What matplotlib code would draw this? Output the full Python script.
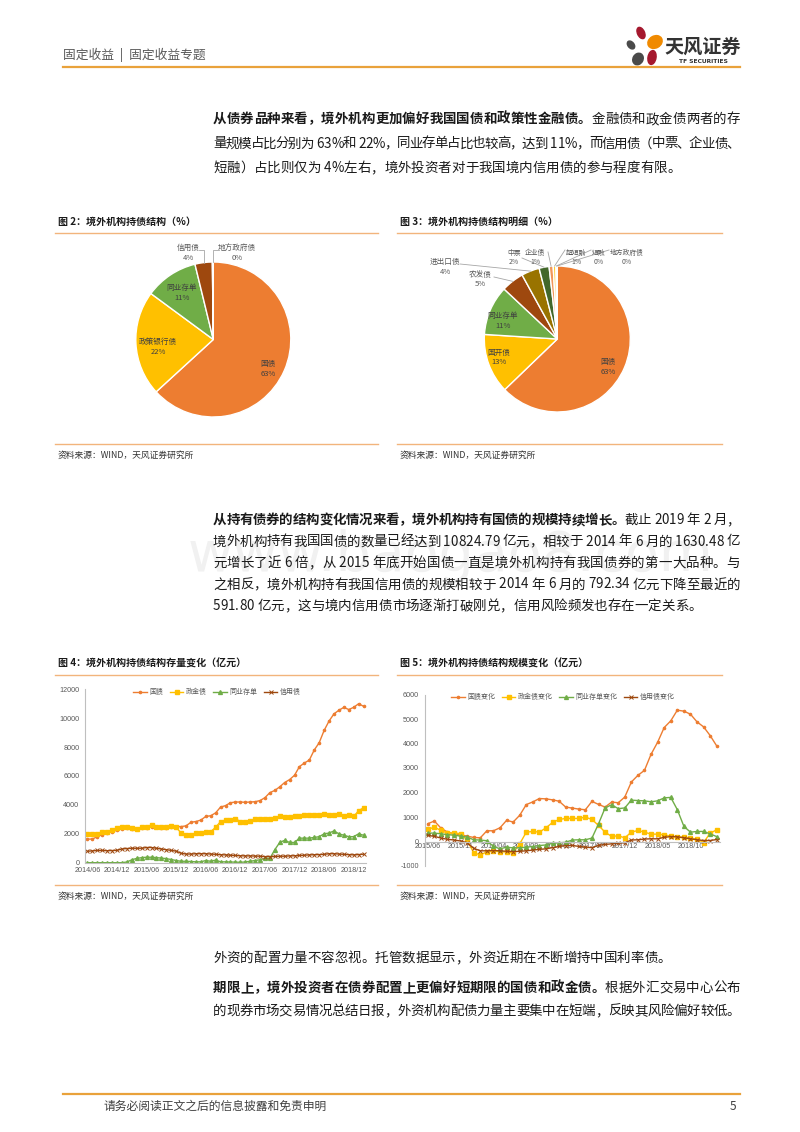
import numpy as np
import pandas as pd
import matplotlib
matplotlib.use('Agg')
import matplotlib.pyplot as plt
from matplotlib import font_manager as fm
from matplotlib.patches import Ellipse

plt.rcParams['font.family'] = ['Noto Sans CJK SC', 'DejaVu Sans']
plt.rcParams['axes.unicode_minus'] = False

# ---------------- data ----------------
pie1_labels = ['国债', '政策银行债', '同业存单', '信用债', '地方政府债']
pie1_values = [63.2, 21.9, 11.1, 3.6, 0.2]
pie1_colors = ['#ED7D31', '#FFC000', '#70AD47', '#9E480E', '#997300']

pie2_labels = ['国债', '国开债', '同业存单', '农发债', '进出口债', '中票', '企业债', '超短融', '短融', '地方政府债']
pie2_values = [62.8, 13.2, 11.0, 5.0, 4.0, 2.2, 0.9, 0.6, 0.2, 0.1]
pie2_colors = ['#ED7D31', '#FFC000', '#70AD47', '#9E480E', '#997300', '#43682B',
               '#F1975A', '#FFCD33', '#8CC168', '#D26012']

months4 = list(pd.period_range('2014-06', '2019-02', freq='M').strftime('%Y/%m'))
stock_gz = [1630, 1640, 1800, 1950, 2050, 2150, 2250,
            2350, 2380, 2350, 2350, 2400, 2400, 2500, 2450, 2400, 2400, 2450, 2500,
            2500, 2550, 2800, 2850, 2950, 3200, 3250, 3450, 3850, 3950, 4150, 4200,
            4200, 4180, 4200, 4220, 4300, 4500, 4850, 5000, 5250, 5550, 5750, 6050,
            6650, 6900, 7100, 7800, 8300, 9150, 9800, 10300, 10550, 10750, 10600, 10750,
            11000, 10825]
stock_zj = [2000, 2000, 2000, 2100, 2150, 2250, 2400,
            2500, 2450, 2400, 2350, 2450, 2500, 2600, 2500, 2450, 2500, 2550, 2450,
            2050, 1950, 1950, 2050, 2050, 2100, 2150, 2450, 2850, 2950, 2950, 3050,
            2850, 2850, 2900, 3000, 3000, 3050, 3050, 3100, 3200, 3150, 3150, 3200,
            3200, 3300, 3300, 3300, 3300, 3400, 3300, 3300, 3400, 3250, 3300, 3200,
            3600, 3800]
stock_tc = [0, 0, 0, 0, 0, 0, 0,
            0, 50, 200, 300, 350, 380, 380, 350, 320, 280, 220, 150,
            100, 100, 80, 60, 60, 150, 100, 180, 60, 60, 50, 40,
            30, 50, 100, 150, 200, 300, 300, 900, 1400, 1550, 1400, 1400,
            1700, 1700, 1700, 1750, 1800, 2000, 2050, 2200, 2000, 1900, 1800, 1800,
            2000, 1900]
stock_xy = [792, 820, 850, 850, 830, 840, 860,
            950, 980, 1000, 1000, 1000, 1050, 1050, 1000, 950, 900, 850, 800,
            650, 600, 600, 620, 620, 620, 600, 580, 550, 540, 520, 500,
            480, 470, 470, 460, 450, 420, 420, 430, 450, 450, 470, 480,
            500, 520, 540, 550, 560, 580, 620, 620, 600, 580, 560, 540,
            560, 592]
stock_names = ['国债', '政金债', '同业存单', '信用债']

months5 = list(pd.period_range('2015-06', '2019-02', freq='M').strftime('%Y/%m'))
chg_gz = [726, 835, 548, 384, 315, 274, 219, 164, 150, 438, 438, 560, 863, 795, 1070,
          1507, 1617, 1754, 1740, 1700, 1644, 1405, 1364, 1323, 1296, 1637, 1514, 1405,
          1610, 1582, 1814, 2428, 2700, 2905, 3560, 4051, 4651, 4924, 5360, 5320, 5197,
          4883, 4679, 4324, 3900]
chg_zj = [491, 587, 450, 341, 355, 314, 50, -464, -546, -423, -368, -423, -423, -464, -95,
          382, 409, 382, 559, 777, 900, 941, 941, 941, 996, 900, 655, 382, 205, 232,
          150, 382, 450, 382, 300, 300, 273, 218, 191, 177, 136, 95, -41, 341, 477]
chg_tc = [343, 343, 315, 280, 260, 220, 180, 70, 60, 30, -200, -300, -230, -260, -260,
          -230, -205, -165, -140, -70, -55, -30, 60, 70, 70, 140, 720, 1370, 1500, 1340,
          1370, 1690, 1670, 1660, 1620, 1660, 1780, 1800, 1300, 620, 380, 410, 410, 310, 200]
chg_xy = [250, 210, 140, 90, 60, 20, -50, -280, -380, -380, -370, -380, -400, -410, -400,
          -380, -350, -320, -300, -250, -200, -170, -160, -200, -230, -250, -160, -120, -95, -70,
          -50, 60, 70, 100, 110, 110, 170, 200, 190, 150, 110, 70, 40, 40, 80]
chg_names = ['国债变化', '政金债变化', '同业存单变化', '信用债变化']

para1 = [
    [('从债券品种来看，境外机构更加偏好我国国债和政策性金融债。', True), ('金融债和政金债两者的存', False)],
    [('量规模占比分别为 63%和 22%，同业存单占比也较高，达到 11%，而信用债（中票、企业债、', False)],
    [('短融）占比则仅为 4%左右，境外投资者对于我国境内信用债的参与程度有限。', False)],
]
para2 = [
    [('从持有债券的结构变化情况来看，境外机构持有国债的规模持续增长。', True), ('截止 2019 年 2 月，', False)],
    [('境外机构持有我国国债的数量已经达到 10824.79 亿元，相较于 2014 年 6 月的 1630.48 亿', False)],
    [('元增长了近 6 倍，从 2015 年底开始国债一直是境外机构持有我国债券的第一大品种。与', False)],
    [('之相反，境外机构持有我国信用债的规模相较于 2014 年 6 月的 792.34 亿元下降至最近的', False)],
    [('591.80 亿元，这与境内信用债市场逐渐打破刚兑，信用风险频发也存在一定关系。', False)],
]
para3 = [[('外资的配置力量不容忽视。托管数据显示，外资近期在不断增持中国利率债。', False)]]
para4 = [
    [('期限上，境外投资者在债券配置上更偏好短期限的国债和政金债。', True), ('根据外汇交易中心公布', False)],
    [('的现券市场交易情况总结日报，外资机构配债力量主要集中在短端，反映其风险偏好较低。', False)],
]

# ---------------- page ----------------
W, H = 800, 1132
fig = plt.figure(figsize=(8, 11.32), dpi=100)
fig.patch.set_facecolor('white')
page = fig.add_axes([0, 0, 1, 1])
page.set_xlim(0, W)
page.set_ylim(H, 0)
page.axis('off')
page.set_zorder(10)
page.patch.set_visible(False)


def px_axes(l, t, r, b):
    return fig.add_axes([l / W, 1 - b / H, (r - l) / W, (b - t) / H])


_wc = {}


def char_w(ch, bold, size):
    """Advance width (pixels) of one character, from the font's own metrics."""
    key = (ch, bold, size)
    if key not in _wc:
        prop = fm.FontProperties(family='Noto Sans CJK SC', weight='bold' if bold else 'normal')
        font = fm.get_font(fm.findfont(prop))
        font.set_size(size, 100)
        a = font.load_char(ord(ch)).linearHoriAdvance
        ref = font.load_char(ord('国')).linearHoriAdvance
        _wc[key] = a / ref * size * 100 / 72
    return _wc[key]


BODY = 9.7
TXT = '#1a1a1a'


def draw_line(y, segs, x0=213, x1=None, size=BODY):
    toks = [(c, b) for t, b in segs for c in t]
    ws = [char_w(c, b, size) for c, b in toks]
    extra = 0
    stretch = [not (ord(toks[i][0]) < 128 and ord(toks[i + 1][0]) < 128) for i in range(len(toks) - 1)]
    if x1 is not None and sum(stretch):
        extra = (x1 - x0 - sum(ws)) / sum(stretch)
    x = x0
    for i, ((c, b), w) in enumerate(zip(toks, ws)):
        if c != ' ':
            page.text(x, y, c, fontsize=size, fontweight='bold' if b else 'normal',
                      ha='left', va='baseline', color=TXT, zorder=3)
        x += w
        if i < len(stretch) and stretch[i]:
            x += extra


def draw_par(lines, y0, dy, justify_last=False):
    for i, segs in enumerate(lines):
        last = i == len(lines) - 1
        draw_line(y0 + i * dy, segs, x1=None if (last and not justify_last) else 740)


# header
page.text(63, 55, '固定收益  |  固定收益专题', fontsize=9.2, color='#595959', va='center', ha='left')
page.plot([63, 740], [67, 67], color='#E9A23B', lw=1.6)
# logo
page.add_patch(Ellipse((641, 33), 7, 12, angle=-25, color='#A5182E'))
page.add_patch(Ellipse((655, 42), 15, 12, angle=-30, color='#F08A00'))
page.add_patch(Ellipse((652, 57.5), 8, 14, angle=10, color='#A5182E'))
page.add_patch(Ellipse((638, 59), 10, 12, angle=30, color='#4A4A4A'))
page.add_patch(Ellipse((631, 45), 6, 9, angle=-40, color='#4A4A4A'))
page.text(703, 47, '天风证券', fontsize=13.8, fontweight='bold', color='#333333', ha='center', va='center')
page.text(703, 61.5, 'TF SECURITIES', fontsize=4.3, fontweight='bold', color='#333333',
          ha='center', va='center', family=['DejaVu Sans'])

# faint watermark
page.text(188, 556, 'www.baogao8.com', fontsize=40, color='#F1F1F1', va='center', ha='left',
          family=['DejaVu Sans'], zorder=1)

# paragraphs
draw_par(para1, 123, 24.5)
draw_par(para2, 524, 21.5)
draw_par(para3, 962, 22)
draw_par(para4, 992, 23, justify_last=True)

# footer
page.plot([63, 740], [1094, 1094], color='#E9A23B', lw=1.6)
page.text(103, 1106, '请务必阅读正文之后的信息披露和免责申明', fontsize=8.5, color='#404040', va='center')
page.text(736, 1106, '5', fontsize=8.5, color='#404040', va='center', ha='right')

# figure frames
BOXLINE = '#F2B47C'


def frame(x0, x1, title, yt, yl, yb, ys):
    page.text(x0 + 3, yt, title, fontsize=7.2, fontweight='bold', color=TXT, va='center', ha='left')
    page.plot([x0, x1], [yl, yl], color=BOXLINE, lw=1)
    page.plot([x0, x1], [yb, yb], color=BOXLINE, lw=1)
    page.text(x0 + 3, ys, '资料来源：WIND，天风证券研究所', fontsize=6.3, color='#333333', va='center', ha='left')


frame(55, 378, '图 2：境外机构持债结构（%）', 222, 233, 444, 455)
frame(397, 722, '图 3：境外机构持债结构明细（%）', 222, 233, 444, 455)
frame(55, 378, '图 4：境外机构持债结构存量变化（亿元）', 664, 675, 885, 896)
frame(397, 722, '图 5：境外机构持债结构规模变化（亿元）', 664, 675, 885, 896)

# ---------------- pies ----------------
LEAD = '#A6A6A6'


def pie_chart(l, t, r, b, cx, cy, R, vals, cols):
    ax = px_axes(l, t, r, b)
    ax.pie(vals, colors=cols, startangle=90, counterclock=False, radius=1,
           wedgeprops=dict(edgecolor='white', linewidth=1.0))
    ax.set_aspect('auto')
    ax.set_xlim((l - cx) / R, (r - cx) / R)
    ax.set_ylim((cy - b) / R, (cy - t) / R)
    ax.axis('off')
    return ax


def edge_pt(vals, i, cx, cy, R):
    cum = np.cumsum([0] + list(vals))
    tot = cum[-1]
    mid = (cum[i] + cum[i + 1]) / 2 / tot * 2 * np.pi
    return cx + R * np.sin(mid), cy - R * np.cos(mid)


def pct(v):
    return f'{round(v):.0f}%'


def plabel(x, y, name, v, color, size):
    page.text(x, y, name, fontsize=size, color=color, ha='center', va='center')
    page.text(x, y + 9.5, pct(v), fontsize=size, color=color, ha='center', va='center')


IN = '#404040'
OUT = '#595959'

c1 = (213.3, 339.5, 77.5)
pie_chart(56, 236, 377, 442, *c1, pie1_values, pie1_colors)
pos1 = {0: (268, 364), 1: (158, 342), 2: (182, 288), 3: (188, 248), 4: (237, 248)}
for i, (nm, v) in enumerate(zip(pie1_labels, pie1_values)):
    plabel(*pos1[i], nm, v, IN if i < 3 else OUT, 5.5)
ex, ey = edge_pt(pie1_values, 3, *c1)
page.plot([199, ex, ex], [250, 250, ey], color=LEAD, lw=0.6)
ex, ey = edge_pt(pie1_values, 4, *c1)
page.plot([219, ex, ex], [250, 250, ey], color=LEAD, lw=0.6)

c2 = (557.3, 339.0, 73.0)
pie_chart(398, 236, 721, 442, *c2, pie2_values, pie2_colors)
pos2 = {0: (608, 362), 1: (499, 353), 2: (503, 316), 3: (480, 275), 4: (445, 262),
        5: (514, 253), 6: (535, 253), 7: (576, 253), 8: (599, 253), 9: (627, 253)}
lead_from = {3: (494, 277), 4: (460, 264), 5: (522, 258), 6: (548, 252),
             7: (565, 250), 8: (591, 250), 9: (609, 250)}
for i, (nm, v) in enumerate(zip(pie2_labels, pie2_values)):
    plabel(*pos2[i], nm, v, IN if i < 3 else OUT, 5.5 if i < 5 else 4.9)
    if i in lead_from:
        ex, ey = edge_pt(pie2_values, i, *c2)
        fx, fy = lead_from[i]
        page.plot([fx, ex], [fy, ey], color=LEAD, lw=0.6)

# ---------------- line charts ----------------
AXC = '#BFBFBF'
TICKC = '#595959'
styles = [dict(color='#ED7D31', marker='o', ms=1.6),
          dict(color='#FFC000', marker='s', ms=3.2),
          dict(color='#70AD47', marker='^', ms=2.8),
          dict(color='#9E480E', marker='x', ms=2.6, mew=0.7)]


def style_axes(ax):
    for s in ['top', 'right']:
        ax.spines[s].set_visible(False)
    for s in ['left', 'bottom']:
        ax.spines[s].set_color(AXC)
        ax.spines[s].set_linewidth(0.8)
    ax.tick_params(axis='both', length=0, labelsize=5.2, labelcolor=TICKC)
    ax.tick_params(axis='y', pad=4)
    ax.tick_params(axis='x', pad=3)
    for lab in ax.get_xticklabels() + ax.get_yticklabels():
        lab.set_fontfamily(['Liberation Sans'])
    ax.patch.set_visible(False)


def legend(ax, cx, cy):
    leg = ax.legend(loc='center', bbox_to_anchor=(cx / W, 1 - cy / H), bbox_transform=fig.transFigure,
                    ncol=4, frameon=False, fontsize=5, handlelength=1.9, columnspacing=1.0,
                    handletextpad=0.35, borderaxespad=0, borderpad=0)
    for t in leg.get_texts():
        t.set_color(TICKC)


ax4 = px_axes(85, 689.3, 366, 862.7)
x4 = np.arange(len(months4))
for ser, nm, st in zip([stock_gz, stock_zj, stock_tc, stock_xy], stock_names, styles):
    ax4.plot(x4, ser, lw=1.0, label=nm, **st)
ax4.set_xlim(-0.5, len(months4) - 0.5)
ax4.set_ylim(0, 12000)
ax4.set_yticks(np.arange(0, 12001, 2000))
ax4.set_xticks(x4[::6])
ax4.set_xticklabels(months4[::6])
style_axes(ax4)
legend(ax4, 217, 692)

ax5 = px_axes(424.5, 694.5, 720, 866)
x5 = np.arange(len(months5))
for ser, nm, st in zip([chg_gz, chg_zj, chg_tc, chg_xy], chg_names, styles):
    ax5.plot(x5, ser, lw=1.0, label=nm, **st)
ax5.set_xlim(-0.5, len(months5) - 0.5)
ax5.set_ylim(-1000, 6000)
ax5.set_yticks(np.arange(-1000, 6001, 1000))
ax5.set_xticks(x5[::5])
ax5.set_xticklabels(months5[::5])
ax5.spines['bottom'].set_position(('data', 0))
style_axes(ax5)
ax5.tick_params(axis='x', pad=1)
legend(ax5, 563, 697)

fig.savefig('out.png', dpi=100, facecolor='white')
